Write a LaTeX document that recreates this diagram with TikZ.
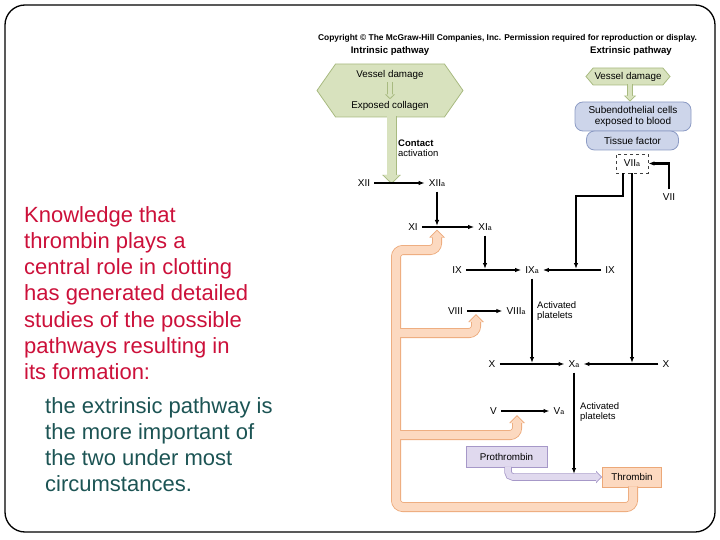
\documentclass[tikz,border=0pt]{standalone}
\usepackage{fontspec}
\setmainfont{Liberation Sans}
\usetikzlibrary{arrows.meta,shapes.symbols}

\definecolor{slidered}{RGB}{204,16,58}
\definecolor{slideteal}{RGB}{28,84,84}
\definecolor{leafline}{RGB}{168,186,128}
\definecolor{leaffill}{RGB}{216,226,190}
\definecolor{bluefill}{RGB}{205,213,234}
\definecolor{blueline}{RGB}{140,155,196}
\definecolor{peachfill}{RGB}{252,217,192}
\definecolor{peachline}{RGB}{236,168,120}
\definecolor{lilacfill}{RGB}{224,217,238}
\definecolor{lilacline}{RGB}{166,152,200}

\newcommand{\sa}{{\fontsize{7pt}{7pt}\selectfont a}}

\begin{document}
\begin{tikzpicture}
	[x=1pt,y=-1pt,
	lead/.style={font=\fontsize{22pt}{26.1pt}\selectfont, align=left, inner sep=0pt, anchor=north west},
	head/.style={font=\bfseries\fontsize{9.6pt}{10pt}\selectfont, inner sep=0pt},
	factor/.style={font=\fontsize{10pt}{11pt}\selectfont, inner sep=1pt},
	boxtext/.style={font=\fontsize{9.8pt}{10.5pt}\selectfont, inner sep=0pt, align=center},
	note/.style={font=\fontsize{9.5pt}{10.3pt}\selectfont, inner sep=0pt, align=left, anchor=west},
	rxn/.style={line width=2.2pt, shorten <=3pt, shorten >=3pt, -{Latex[length=6pt,width=4.5pt]}},
	feed/.style={line width=2.2pt, shorten <=4pt, shorten >=1pt, -{Latex[length=6pt,width=4.5pt]}},
	hexbox/.style={signal, signal to=east and west, draw=leafline, fill=leaffill, line width=0.8pt},
	bluebox/.style={rectangle, rounded corners=8pt, draw=blueline, fill=bluefill, line width=0.8pt, font=\fontsize{10pt}{10.5pt}\selectfont, align=center},
	gout/.style={draw=leafline, line width=#1, -{Triangle[width=0pt 1.8,length=0pt 0.9]}},
	gin/.style={draw=leaffill, line width=#1-1.6pt, shorten >=1.3pt, -{Triangle[width=0pt 1.8,length=0pt 0.9]}},
	fbout/.style={draw=peachline, line width=10pt, rounded corners=7pt, -{Triangle[width=15pt,length=8pt]}},
	fbin/.style={draw=peachfill, line width=8.4pt, rounded corners=7pt, shorten >=1.3pt, -{Triangle[width=12.5pt,length=6.5pt]}},
	lout/.style={draw=lilacline, line width=7.5pt, rounded corners=5pt, -{Triangle[width=12pt,length=6pt]}},
	lin/.style={draw=lilacfill, line width=5.9pt, rounded corners=5pt, shorten >=1.3pt, -{Triangle[width=9.5pt,length=4.8pt]}}]
	\useasboundingbox (0,0) rectangle (720,540);
	\draw[line width=1.3pt, rounded corners=20pt] (5,5) rectangle (715,532);

	% text of the slide
	\node[lead, text=slidered] (knowledge) at (24,206.5) {Knowledge that\\thrombin plays a\\central role in clotting\\has generated detailed\\studies of the possible\\pathways resulting in\\its formation:};
	\node[lead, text=slideteal] (extrinsic) at (45,397.5) {the extrinsic pathway is\\the more important of\\the two under most\\circumstances.};

	% headings
	\node[inner sep=0pt, font=\bfseries\fontsize{8.4pt}{9pt}\selectfont] (copyright) at (507.5,38) {Copyright \textcopyright{} The McGraw-Hill Companies, Inc. Permission required for reproduction or display.};
	\node[head] (intrinsicp) at (390,51) {Intrinsic pathway};
	\node[head] (extrinsicp) at (631,51) {Extrinsic pathway};

	% boxes
	\node[hexbox, minimum width=146pt, minimum height=53pt, signal pointer angle=110] (hexA) at (390,90.5) {};
	\node[boxtext] (vesselA) at (390,75) {Vessel damage};
	\node[boxtext] (collagen) at (390,106) {Exposed collagen};
	\node[hexbox, minimum width=84pt, minimum height=17pt, signal pointer angle=100] (hexB) at (628,76.5) {};
	\node[boxtext] (vesselB) at (628,76.5) {Vessel damage};
	\node[bluebox, minimum width=116pt, minimum height=29pt, inner sep=1pt] (subendo) at (633,116.5) {Subendothelial cells\\exposed to blood};
	\node[bluebox, minimum width=92pt, minimum height=19pt, inner sep=1pt] (tissue) at (632.5,140.5) {Tissue factor};
	\node[factor, draw=black!75, dashed, line width=0.8pt, minimum width=32pt, minimum height=19pt] (viia) at (632,163.5) {VII\sa};
	\node[boxtext, draw=lilacline, fill=lilacfill, line width=0.8pt, minimum width=81pt, minimum height=21pt] (prothrombin) at (506.5,457) {Prothrombin};
	\node[boxtext, draw=peachline, fill=peachfill, line width=0.8pt, minimum width=59pt, minimum height=20pt] (thrombin) at (632,477) {Thrombin};

	% factors
	\node[factor] (xii) at (364,183) {XII};
	\node[factor] (xiia) at (437,183) {XII\sa};
	\node[factor] (xi) at (413,227) {XI};
	\node[factor] (xia) at (485,227) {XI\sa};
	\node[factor] (ixl) at (457,270) {IX};
	\node[factor] (ixa) at (532,270) {IX\sa};
	\node[factor] (ixr) at (610,270) {IX};
	\node[factor] (viii) at (455.5,311) {VIII};
	\node[factor] (viiia) at (516,311) {VIII\sa};
	\node[factor] (xl) at (492,364) {X};
	\node[factor] (xa) at (574,364) {X\sa};
	\node[factor] (xr) at (666,364) {X};
	\node[factor] (v) at (493.5,411) {V};
	\node[factor] (va) at (559,411) {V\sa};
	\node[factor] (vii) at (669,197) {VII};
	\node[note] (contact) at (398,148) {\textbf{Contact}\\activation};
	\node[note] (platelets1) at (537,311) {Activated\\platelets};
	\node[note] (platelets2) at (580,412) {Activated\\platelets};
	\coordinate (xjoin) at (xiia.south |- xi);

	% hollow arrows
	\foreach \layer in {gout,gin}{
		\draw[\layer=10pt] ([xshift=1.5pt,yshift=1pt]hexA.south) -- ([xshift=1.5pt,yshift=-1pt]hexA.south |- xii);
		\draw[\layer=5.5pt] ([yshift=-2pt]vesselA.south) -- ([yshift=2pt]collagen.north);
		\draw[\layer=6.5pt] ([xshift=2pt,yshift=1pt]hexB.south) -- ([xshift=2pt]hexB.south |- subendo.north);
	}
	\foreach \layer in {fbout,fbin}{
		\draw[\layer] ([xshift=1pt,yshift=1pt]thrombin.south) -- ([xshift=1pt]thrombin.south |- 0,507) -- (396,507) -- (396,250) -- (xjoin |- 0,250) -- ([yshift=-2.5pt]xjoin);
		\draw[\layer] (396,333) -- (476,333) -- (476,314);
		\draw[\layer] (396,435) -- (517,435) -- (517,415);
	}
	\foreach \layer in {lout,lin}
		\draw[\layer] ([xshift=1.5pt,yshift=1pt]prothrombin.south) |- (thrombin.west);

	% reactions
	\draw[rxn] (xii) -- (xiia);
	\draw[feed] (xiia.south) -- (xjoin);
	\draw[rxn] (xi) -- (xia);
	\draw[feed] (xia.south) -- (xia.south |- ixl);
	\draw[rxn] (ixl) -- (ixa);
	\draw[rxn] (ixr) -- (ixa);
	\draw[rxn] (viii) -- (viiia);
	\draw[feed, line width=1.4pt] (ixa.south) -- (ixa.south |- xl);
	\draw[rxn] (xl) -- (xa);
	\draw[rxn] (xr) -- (xa);
	\draw[rxn] (v) -- (va);
	\draw[feed, line width=2.6pt, shorten >=3pt] (xa.south) -- (xa.south |- thrombin);
	\coordinate (k9) at (576,196);
	\draw[feed, line width=2.6pt, shorten <=0pt] ([xshift=-9pt]viia.south) |- (k9) -- (k9 |- ixr);
	\draw[feed, line width=2.4pt, shorten <=0pt] (viia.south) -- (viia.south |- xr);
	\draw[feed, shorten <=3pt, shorten >=0pt] (vii.north) |- (viia.east);
\end{tikzpicture}
\end{document}
